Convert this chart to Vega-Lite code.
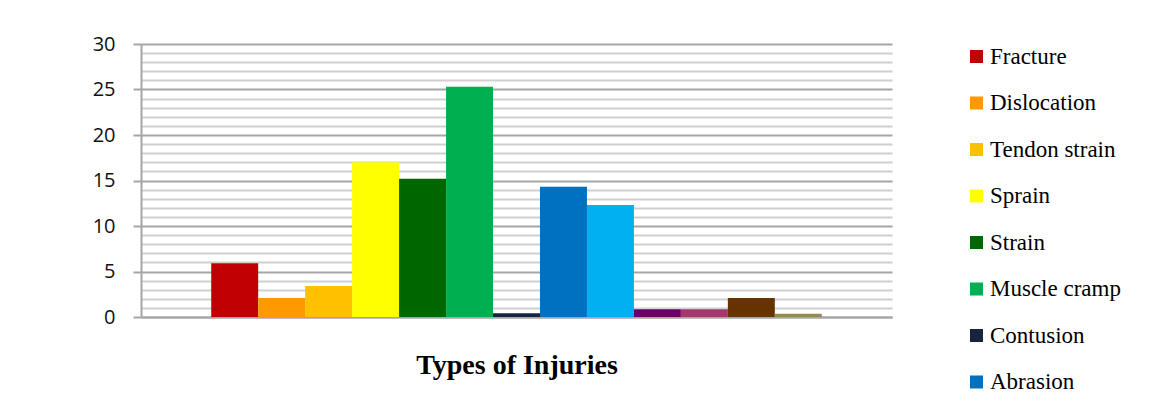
{
  "$schema": "https://vega.github.io/schema/vega-lite/v6.json",
  "autosize": "none",
  "width": 751,
  "height": 273,
  "padding": {"left": 141, "top": 44, "right": 263, "bottom": 88},
  "background": "white",
  "data": {
    "values": [
      {"group": "Types of Injuries", "type": "Fracture", "value": 5.9},
      {"group": "Types of Injuries", "type": "Dislocation", "value": 2.1},
      {"group": "Types of Injuries", "type": "Tendon strain", "value": 3.4},
      {"group": "Types of Injuries", "type": "Sprain", "value": 17.0},
      {"group": "Types of Injuries", "type": "Strain", "value": 15.2},
      {"group": "Types of Injuries", "type": "Muscle cramp", "value": 25.3},
      {"group": "Types of Injuries", "type": "Contusion", "value": 0.4},
      {"group": "Types of Injuries", "type": "Abrasion", "value": 14.3},
      {"group": "Types of Injuries", "type": "Laceration", "value": 12.3},
      {"group": "Types of Injuries", "type": "Blister", "value": 0.85},
      {"group": "Types of Injuries", "type": "Bruise", "value": 0.85},
      {"group": "Types of Injuries", "type": "Concussion", "value": 2.1},
      {"group": "Types of Injuries", "type": "Others", "value": 0.35}
    ]
  },
  "mark": {"type": "bar", "strokeWidth": 0},
  "encoding": {
    "x": {
      "field": "group",
      "type": "nominal",
      "scale": {"paddingInner": 0, "paddingOuter": 0.115},
      "axis": {
        "title": "Types of Injuries",
        "titleFont": "Liberation Serif",
        "titleFontSize": 28,
        "titleFontWeight": "bold",
        "titleColor": "#000000",
        "titlePadding": 34,
        "labels": false,
        "ticks": false,
        "domain": true,
        "domainColor": "#a6a6a6",
        "domainWidth": 2,
        "grid": false
      }
    },
    "xOffset": {
      "field": "type",
      "type": "nominal",
      "sort": null,
      "scale": {"paddingInner": 0, "paddingOuter": 0}
    },
    "y": {
      "field": "value",
      "type": "quantitative",
      "scale": {"domain": [0, 30], "nice": false},
      "axis": {
        "title": null,
        "values": [0,1,2,3,4,5,6,7,8,9,10,11,12,13,14,15,16,17,18,19,20,21,22,23,24,25,26,27,28,29,30],
        "labelExpr": "datum.value % 5 === 0 ? datum.label : ''",
        "labelFont": "Open Sans",
        "labelFontSize": 20,
        "labelColor": "#111111",
        "labelPadding": 18,
        "domain": true,
        "domainColor": "#a6a6a6",
        "domainWidth": 2,
        "grid": true,
        "gridColor": {"condition": {"test": "datum.value % 5 === 0", "value": "#a6a6a6"}, "value": "#d0d0d0"},
        "gridWidth": 2,
        "ticks": true,
        "tickColor": "#a6a6a6",
        "tickWidth": 2,
        "tickSize": 8,
        "tickOpacity": {"condition": {"test": "datum.value % 5 === 0", "value": 1}, "value": 0}
      }
    },
    "color": {
      "field": "type",
      "type": "nominal",
      "sort": null,
      "scale": {
        "domain": ["Fracture", "Dislocation", "Tendon strain", "Sprain", "Strain", "Muscle cramp", "Contusion", "Abrasion", "Laceration", "Blister", "Bruise", "Concussion", "Others"],
        "range": ["#C00000", "#FF9900", "#FFC000", "#FFFF00", "#006600", "#00B050", "#17243F", "#0070C0", "#00B0F0", "#660066", "#9E3A6C", "#663300", "#948A54"]
      },
      "legend": {
        "title": null,
        "orient": "none",
        "legendX": 824,
        "legendY": 1,
        "padding": 0,
        "values": ["Fracture", "Dislocation", "Tendon strain", "Sprain", "Strain", "Muscle cramp", "Contusion", "Abrasion"],
        "symbolType": "square",
        "symbolSize": 169,
        "symbolStrokeWidth": 0,
        "labelFont": "Liberation Serif",
        "labelFontSize": 23,
        "labelColor": "#000000",
        "labelOffset": 2,
        "rowPadding": 22.5,
        "labelLimit": 300
      }
    }
  },
  "config": {"view": {"stroke": null}}
}
